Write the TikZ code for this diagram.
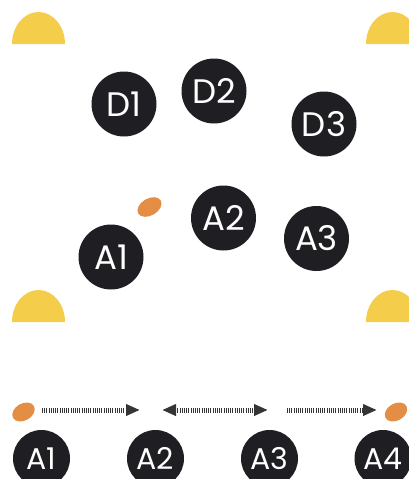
\documentclass[tikz,border=0pt]{standalone}
\usepackage{fontspec}
\setmainfont{Poppins}
\usetikzlibrary{arrows.meta}

\definecolor{ink}{HTML}{1F1E22}
\definecolor{sun}{HTML}{F4CD4A}
\definecolor{seed}{HTML}{E48D45}

\begin{document}
\begin{tikzpicture}[
    x=1pt, y=-1pt,
    font=\fontsize{34}{34}\selectfont,
    agent/.style={circle, fill=ink, text=white, inner sep=0pt, minimum size=65pt},
    small agent/.style={agent, minimum size=57pt, font=\fontsize{30}{30}\selectfont},
    flow/.style={draw=ink!90, line width=5pt, dash pattern=on 1pt off 1.2pt,
        -{Triangle[length=14pt,width=11pt]}}
]
\useasboundingbox (0,0) rectangle (409,479);
\clip (0,0) rectangle (409,479);

\def\sunrx{26.5pt}
\def\sunry{32pt}

%% Polkruhy v rohoch
\foreach \cx/\cy in {38.5/44, 392.5/44, 38.5/322, 392.5/322} {
    \fill[sun] (\cx-26.5,\cy) arc[start angle=180, end angle=0,
        x radius=\sunrx, y radius=\sunry] -- cycle;
}

%% Horna skupina: D a A
\foreach \name/\x/\y in {D1/124/104, D2/214/91, D3/324/124,
                         A1/111/257, A2/223.5/218, A3/316.5/238.5} {
    \node[agent] (top\name) at (\x,\y) {\name};
}

%% Semienko medzi A1 a A2
\fill[seed, rotate around={30:(149.5,207)}] (149.5,207) ellipse (13pt and 8.5pt);

%% Dolny rad
\foreach \name/\x in {A1/41.5, A2/155.5, A3/269.5, A4/383} {
    \node[small agent] (row\name) at (\x,458.5) {\name};
}

%% Semienka v dolnom rade
\foreach \x in {23.5, 396} {
    \fill[seed, rotate around={30:(\x,412)}] (\x,412) ellipse (12pt and 8.5pt);
}

%% Konce sipok
\coordinate (f1s) at (42,410);
\coordinate (f1e) at (140,410);
\coordinate (f2s) at (162,410);
\coordinate (f2e) at (268,410);
\coordinate (f3s) at (287,410);
\coordinate (f3e) at (377,410);

\draw[flow] (f1s) -- (f1e);
\draw[flow, {Triangle[length=14pt,width=11pt]}-{Triangle[length=14pt,width=11pt]}] (f2s) -- (f2e);
\draw[flow] (f3s) -- (f3e);

\end{tikzpicture}
\end{document}
